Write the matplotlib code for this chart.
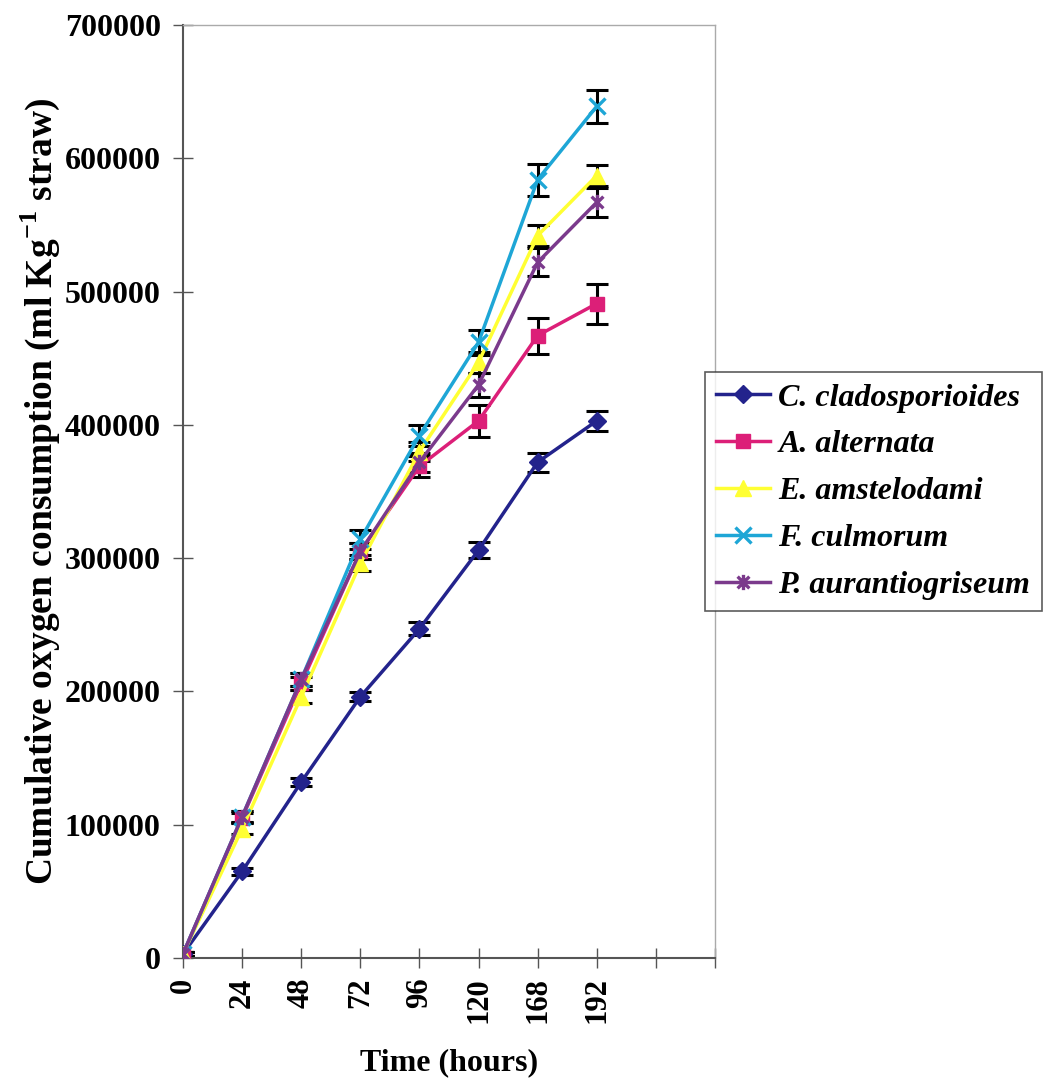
import matplotlib
matplotlib.use("Agg")
import matplotlib.pyplot as plt
from matplotlib.path import Path
import numpy as np

plt.rcParams['font.family'] = ['Liberation Serif', 'DejaVu Serif']
plt.rcParams['mathtext.fontset'] = 'custom'
plt.rcParams['mathtext.rm'] = 'Liberation Serif:bold'
plt.rcParams['mathtext.bf'] = 'Liberation Serif:bold'

time_labels = ["0", "24", "48", "72", "96", "120", "168", "192"]

c_clad = [3000, 65000, 132000, 196000, 247000, 306000, 372000, 403000]
c_clad_err = [1500, 2500, 3000, 3500, 5000, 6000, 7000, 7500]

a_alt = [3000, 105000, 206000, 305000, 369000, 403000, 467000, 491000]
a_alt_err = [1500, 4000, 5000, 6000, 8000, 12000, 13500, 15000]

e_ams = [3000, 97000, 196000, 296000, 380000, 447000, 542000, 587000]
e_ams_err = [1500, 4000, 5000, 6000, 7000, 8000, 8000, 8000]

f_cul = [3000, 106000, 209000, 314000, 392000, 462000, 584000, 639000]
f_cul_err = [1500, 4000, 5000, 7000, 8000, 9500, 12000, 12500]

p_aur = [3000, 106000, 209000, 305000, 372000, 430000, 522000, 567000]
p_aur_err = [1500, 4000, 5000, 6000, 7000, 9000, 10500, 11000]

names = ["C. cladosporioides", "A. alternata", "E. amstelodami", "F. culmorum", "P. aurantiogriseum"]

star = Path([(-1, -1), (1, 1), (-1, 1), (1, -1), (0, -1.3), (0, 1.3)],
            [Path.MOVETO, Path.LINETO, Path.MOVETO, Path.LINETO, Path.MOVETO, Path.LINETO])

series = [
    (c_clad, c_clad_err, "#23238C", "D", 9),
    (a_alt, a_alt_err, "#DC1F78", "s", 10),
    (e_ams, e_ams_err, "#FFFF33", "^", 11),
    (f_cul, f_cul_err, "#1EA6D6", "x", 12),
    (p_aur, p_aur_err, "#7B3A8C", star, 11),
]

fig = plt.figure(figsize=(10.47, 10.84), dpi=100)
ax = fig.add_axes([183/1047, 1 - 958/1084, (715-183)/1047, (958-25)/1084])

x = np.arange(len(time_labels))
handles = []
for (vals, errs, col, mk, ms), name in zip(series, names):
    ax.errorbar(x, vals, yerr=errs, fmt='none', ecolor='black', elinewidth=2.2,
                capsize=8, capthick=2.2, zorder=2)
    mew = 2.4 if (mk == "x" or mk is star) else 1
    h, = ax.plot(x, vals, color=col, lw=2.5, marker=mk, ms=ms, mfc=col, mec=col,
                 mew=mew, zorder=3, label=name)
    handles.append(h)

ax.set_xlim(0, 9)
ax.set_ylim(0, 700000)
ax.set_xticks(np.arange(10))
ax.set_xticklabels(time_labels + ["", ""], rotation=90, fontsize=22, fontweight='bold')
ax.set_yticks(np.arange(0, 700001, 100000))
ax.set_yticklabels([str(v) for v in range(0, 700001, 100000)], fontsize=23, fontweight='bold')
ax.tick_params(axis='y', direction='inout', length=14, width=1, color='#555555', pad=9)
ax.tick_params(axis='x', direction='inout', length=14, width=1, color='#555555', pad=7)

for s in ['left', 'bottom']:
    ax.spines[s].set_color('#555555')
    ax.spines[s].set_linewidth(1.5)
for s in ['top', 'right']:
    ax.spines[s].set_color('#aaaaaa')
    ax.spines[s].set_linewidth(1)

ax.set_xlabel("Time (hours)", fontsize=23, fontweight='bold', labelpad=18)
ax.set_ylabel(r"Cumulative oxygen consumption (ml Kg$^{\mathbf{-1}}$ straw)",
              fontsize=27, fontweight='bold', labelpad=2)

leg = fig.legend(handles=handles, loc='upper left', bbox_to_anchor=(705/1047, 1 - 372/1084),
                 prop={'family': 'Liberation Serif', 'weight': 'bold', 'style': 'italic', 'size': 23},
                 frameon=True, fancybox=False, edgecolor='#333333', handlelength=1.7,
                 handletextpad=0.25, borderpad=0.35, labelspacing=0.55, borderaxespad=0)
leg.get_frame().set_linewidth(1.2)

fig.savefig("out.png", dpi=100)
